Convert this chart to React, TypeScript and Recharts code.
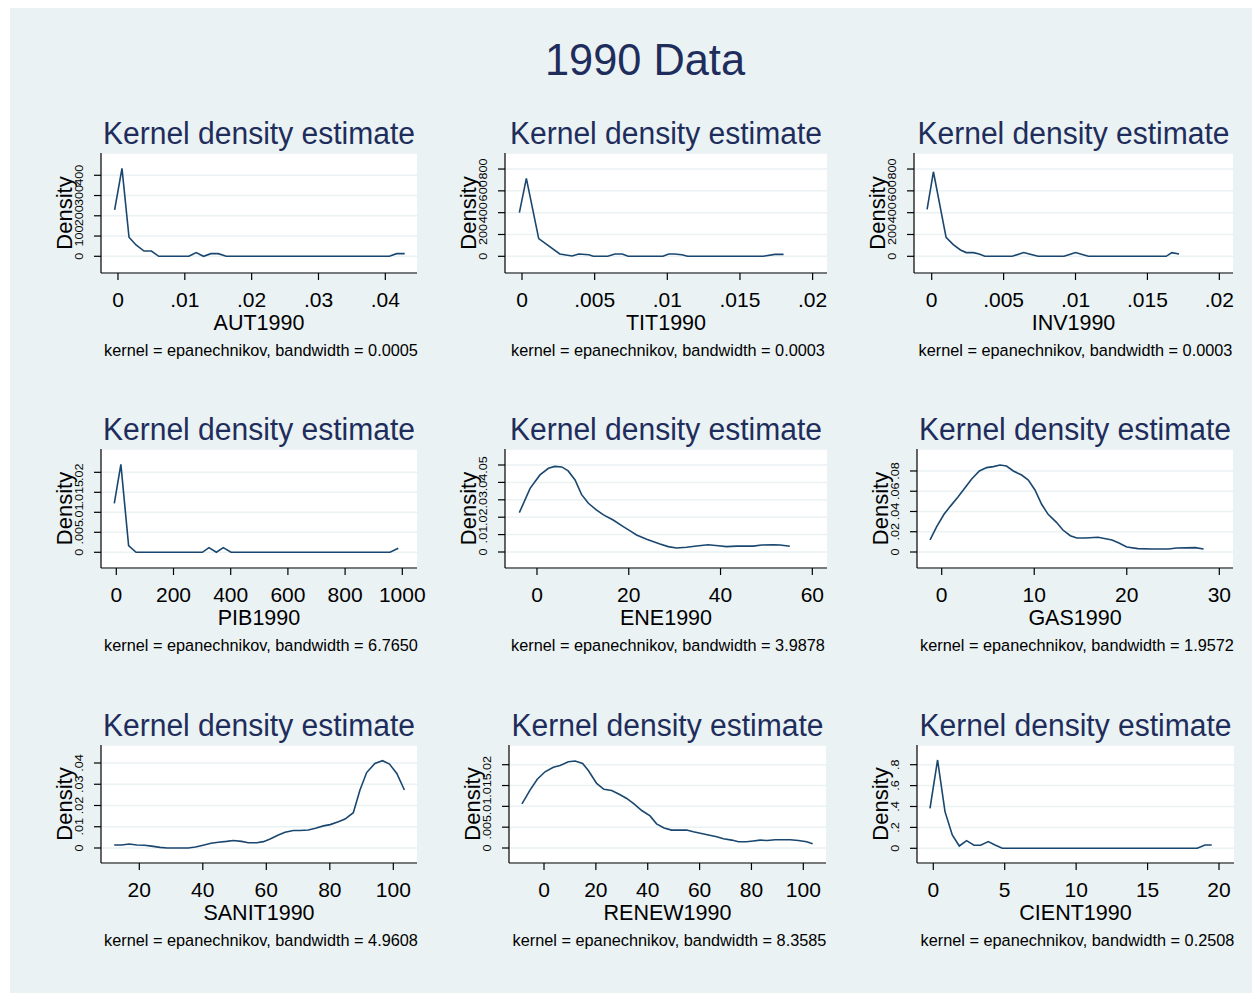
import React from "react";
import { LineChart, Line, XAxis, YAxis, CartesianGrid } from "recharts";

// kernel density curves (x = variable value, y = density)
const AUT_X = [-0.0005, 0.0006, 0.00165, 0.0027, 0.0039, 0.005, 0.0061, 0.0106, 0.0117, 0.0128, 0.0139, 0.015, 0.0162, 0.0406, 0.0417, 0.0429];
const AUT_Y = [229, 434, 94, 56, 26, 26, 0, 0, 18, 0, 13, 13, 0, 0, 13, 13];

const TIT_X = [-0.00018, 0.0003, 0.00115, 0.0026, 0.00345, 0.0039, 0.0046, 0.0049, 0.0059, 0.0064, 0.0069, 0.0073, 0.0097, 0.0101, 0.0105, 0.011, 0.0114, 0.0166, 0.0174, 0.018];
const TIT_Y = [400, 714, 162, 21, 3, 21, 15, 0, 0, 21, 21, 0, 0, 21, 21, 15, 0, 0, 18, 18];

const INV_X = [-0.00032, 0.00012, 0.001, 0.0015, 0.002, 0.0024, 0.0029, 0.0033, 0.0037, 0.0056, 0.0064, 0.0074, 0.0092, 0.01, 0.0109, 0.0163, 0.0167, 0.0172];
const INV_Y = [430, 775, 174, 107, 58, 34, 34, 21, 0, 0, 34, 0, 0, 34, 0, 0, 34, 21];

const PIB_X = [-7, 16, 43, 69, 301, 324, 350, 374, 401, 957, 986];
const PIB_Y = [0.01225, 0.022, 0.00167, 0, 0, 0.00117, 0, 0.00117, 0, 0, 0.001];

const ENE_X = [-3.85, -1.5, 0.65, 2.5, 3.9, 5.4, 6.8, 8.3, 9.7, 11.2, 13, 14.5, 16.6, 18.8, 20.3, 21.7, 23.9, 26.8, 28.6, 30.4, 32.6, 34.8, 37.3, 39.5, 41.3, 43.5, 47.1, 49, 51.5, 53, 55.1];
const ENE_Y = [0.0226, 0.0366, 0.0443, 0.0481, 0.0492, 0.0489, 0.0466, 0.0414, 0.0331, 0.028, 0.0241, 0.0213, 0.0184, 0.0146, 0.0121, 0.0098, 0.0073, 0.0046, 0.0031, 0.0023, 0.0027, 0.0034, 0.0042, 0.0036, 0.0031, 0.0034, 0.0034, 0.004, 0.0042, 0.004, 0.0033];

const GAS_X = [-1.26, -0.54, 0.25, 0.9, 1.8, 2.52, 3.24, 4.07, 4.86, 5.58, 6.3, 7.0, 7.74, 8.64, 9.36, 10.08, 10.8, 11.5, 12.4, 13.1, 13.9, 14.6, 15.5, 16.9, 18.4, 19.1, 20, 21.2, 22.7, 24.5, 25.4, 27.4, 28.3];
const GAS_Y = [0.0119, 0.025, 0.0372, 0.0448, 0.0547, 0.0635, 0.0721, 0.08, 0.0833, 0.0843, 0.0859, 0.0849, 0.08, 0.076, 0.0711, 0.0612, 0.0471, 0.0372, 0.0293, 0.0217, 0.0161, 0.0138, 0.0138, 0.0145, 0.0119, 0.0092, 0.0049, 0.0033, 0.003, 0.003, 0.004, 0.0043, 0.003];

const SANIT_X = [12.1, 14.4, 16.85, 19.2, 21.6, 23.9, 26.5, 28.8, 35.4, 37.7, 40.1, 42.6, 44.9, 47.5, 49.6, 52.2, 54.3, 57, 59.1, 61.2, 63.8, 65.9, 68.5, 70.6, 73.2, 75.5, 78, 80.1, 82.7, 84.8, 87.4, 89.5, 91.6, 94.2, 96.6, 98.8, 101.1, 103.5];
const SANIT_Y = [0.0014, 0.0014, 0.0019, 0.0014, 0.0013, 0.0009, 0.0003, 0, 0, 0.0005, 0.0013, 0.0022, 0.0027, 0.0031, 0.0035, 0.0031, 0.0025, 0.0025, 0.003, 0.0042, 0.0061, 0.0074, 0.0082, 0.0082, 0.0085, 0.0093, 0.0104, 0.011, 0.0124, 0.0136, 0.0166, 0.0273, 0.0355, 0.0398, 0.0411, 0.0395, 0.0351, 0.0273];

const RENEW_X = [-8.5, -5.4, -2.6, 0.4, 3.6, 6.2, 9.4, 12, 14.9, 17.1, 20.3, 23.1, 26.1, 29, 31.9, 34.7, 37.7, 40.9, 43.4, 46.3, 49.2, 55, 57.6, 63.4, 66.6, 69.2, 72.4, 75, 78, 80.7, 83.3, 86.1, 89.1, 94.9, 98.1, 101.3, 103.6];
const RENEW_Y = [0.0106, 0.0139, 0.0165, 0.0183, 0.0194, 0.0198, 0.0207, 0.0209, 0.0203, 0.0186, 0.0155, 0.0141, 0.0138, 0.0129, 0.0119, 0.0106, 0.009, 0.0077, 0.0058, 0.0048, 0.0043, 0.0043, 0.0039, 0.0031, 0.0027, 0.0022, 0.0019, 0.0015, 0.0015, 0.0017, 0.0019, 0.0018, 0.002, 0.002, 0.0018, 0.0015, 0.001];

const CIENT_X = [-0.23, 0.3, 0.82, 1.33, 1.82, 2.33, 2.85, 3.31, 3.85, 4.32, 4.83, 18.48, 19.02, 19.49];
const CIENT_Y = [0.382, 0.845, 0.351, 0.127, 0.022, 0.073, 0.029, 0.029, 0.064, 0.032, 0, 0, 0.032, 0.032];

// axis ticks
const SMALL_X_TICKS = [0, 0.005, 0.01, 0.015, 0.02];
const AUT_X_TICKS = [0, 0.01, 0.02, 0.03, 0.04];
const AUT_Y_TICKS = [0, 100, 200, 300, 400];
const TIT_Y_TICKS = [0, 200, 400, 600, 800];
const PIB_X_TICKS = [0, 200, 400, 600, 800, 1000];
const PIB_Y_TICKS = [0, 0.005, 0.01, 0.015, 0.02];
const ENE_X_TICKS = [0, 20, 40, 60];
const ENE_Y_TICKS = [0, 0.01, 0.02, 0.03, 0.04, 0.05];
const GAS_X_TICKS = [0, 10, 20, 30];
const GAS_Y_TICKS = [0, 0.02, 0.04, 0.06, 0.08];
const SANIT_X_TICKS = [20, 40, 60, 80, 100];
const SANIT_Y_TICKS = [0, 0.01, 0.02, 0.03, 0.04];
const RENEW_X_TICKS = [0, 20, 40, 60, 80, 100];
const RENEW_Y_TICKS = [0, 0.005, 0.01, 0.015, 0.02];
const CIENT_X_TICKS = [0, 5, 10, 15, 20];
const CIENT_Y_TICKS = [0, 0.2, 0.4, 0.6, 0.8];

const FONT = '"Liberation Sans", Arial, Helvetica, sans-serif';
const NAVY = "#1a476f";
const TITLE_COLOR = "#1f2d5c";
const BG = "#eaf2f3";

const PAD_L = 70;
const PAD_T = 45;
const PAD_R = 20;
const PAD_B = 100;

// stata style: .01 instead of 0.01
const fmt = (v: number) => String(v).replace(/^0\./, ".");

type Panel = {
  name: string;
  bw: string;
  xs: number[];
  ys: number[];
  xTicks: number[];
  yTicks: number[];
  xDomain: [number, number];
  yDomain: [number, number];
  box: { l: number; t: number; r: number; b: number };
};

const panels: Panel[] = [
  { name: "AUT1990", bw: "0.0005", xs: AUT_X, ys: AUT_Y, xTicks: AUT_X_TICKS, yTicks: AUT_Y_TICKS, xDomain: [-0.00254, 0.04474], yDomain: [-82.5, 510], box: { l: 101, t: 153, r: 417, b: 273 } },
  { name: "TIT1990", bw: "0.0003", xs: TIT_X, ys: TIT_Y, xTicks: SMALL_X_TICKS, yTicks: TIT_Y_TICKS, xDomain: [-0.00117, 0.02099], yDomain: [-153, 947], box: { l: 505, t: 153, r: 827, b: 273 } },
  { name: "INV1990", bw: "0.0003", xs: INV_X, ys: INV_Y, xTicks: SMALL_X_TICKS, yTicks: TIT_Y_TICKS, xDomain: [-0.00123, 0.02095], yDomain: [-153, 947], box: { l: 914, t: 153, r: 1233, b: 273 } },
  { name: "PIB1990", bw: "6.7650", xs: PIB_X, ys: PIB_Y, xTicks: PIB_X_TICKS, yTicks: PIB_Y_TICKS, xDomain: [-53.5, 1051.4], yDomain: [-0.00393, 0.02583], box: { l: 101, t: 449, r: 417, b: 568 } },
  { name: "ENE1990", bw: "3.9878", xs: ENE_X, ys: ENE_Y, xTicks: ENE_X_TICKS, yTicks: ENE_Y_TICKS, xDomain: [-6.97, 63.2], yDomain: [-0.0092, 0.0592], box: { l: 505, t: 449, r: 827, b: 568 } },
  { name: "GAS1990", bw: "1.9572", xs: GAS_X, ys: GAS_Y, xTicks: GAS_X_TICKS, yTicks: GAS_Y_TICKS, xDomain: [-2.67, 31.48], yDomain: [-0.0158, 0.1017], box: { l: 917, t: 449, r: 1233, b: 568 } },
  { name: "SANIT1990", bw: "4.9608", xs: SANIT_X, ys: SANIT_Y, xTicks: SANIT_X_TICKS, yTicks: SANIT_Y_TICKS, xDomain: [7.94, 107.46], yDomain: [-0.00706, 0.04847], box: { l: 101, t: 745, r: 417, b: 863 } },
  { name: "RENEW1990", bw: "8.3585", xs: RENEW_X, ys: RENEW_Y, xTicks: RENEW_X_TICKS, yTicks: RENEW_Y_TICKS, xDomain: [-13.5, 108.75], yDomain: [-0.0036, 0.02473], box: { l: 509, t: 745, r: 826, b: 863 } },
  { name: "CIENT1990", bw: "0.2508", xs: CIENT_X, ys: CIENT_Y, xTicks: CIENT_X_TICKS, yTicks: CIENT_Y_TICKS, xDomain: [-1.14, 21.05], yDomain: [-0.1407, 0.9885], box: { l: 917, t: 745, r: 1234, b: 863 } },
];

function XTick(props: any) {
  const { x, y, payload } = props;
  return (
    <text x={x} y={y + 27} textAnchor="middle" fontSize={21} fontFamily={FONT} fill="#000">
      {fmt(payload.value)}
    </text>
  );
}

function YTick(props: any) {
  const { x, y, payload } = props;
  // rotated, stretched like stata's small vertical labels
  return (
    <g transform={`translate(${x - 11.5},${y}) rotate(-90) scale(1.15,1)`}>
      <text x={0} y={0} textAnchor="middle" fontSize={11} fontFamily={FONT} fill="#000">
        {fmt(payload.value)}
      </text>
    </g>
  );
}

function DensityPanel({ p }: { p: Panel }) {
  const w = p.box.r - p.box.l;
  const h = p.box.b - p.box.t;
  const cw = w + PAD_L + PAD_R;
  const ch = h + PAD_T + PAD_B;
  const data = p.xs.map((x, i) => ({ x, y: p.ys[i] }));
  const cx = PAD_L + w / 2;

  return (
    <div style={{ position: "absolute", left: p.box.l - PAD_L, top: p.box.t - PAD_T, width: cw, height: ch }}>
      <LineChart width={cw} height={ch} data={data} margin={{ top: PAD_T, right: PAD_R, bottom: 0, left: 0 }}>
        <CartesianGrid vertical={false} stroke={BG} strokeWidth={1.5} fill="#ffffff" />
        <XAxis
          type="number"
          dataKey="x"
          domain={p.xDomain}
          ticks={p.xTicks}
          interval={0}
          allowDataOverflow
          height={PAD_B}
          tickSize={7}
          tickMargin={0}
          axisLine={{ stroke: "#000", strokeWidth: 1.2 }}
          tickLine={{ stroke: "#000", strokeWidth: 1.2 }}
          tick={<XTick />}
        />
        <YAxis
          type="number"
          dataKey="y"
          domain={p.yDomain}
          ticks={p.yTicks}
          interval={0}
          allowDataOverflow
          width={PAD_L}
          tickSize={7}
          tickMargin={0}
          axisLine={{ stroke: "#000", strokeWidth: 1.2 }}
          tickLine={{ stroke: "#000", strokeWidth: 1.2 }}
          tick={<YTick />}
        />
        <Line type="linear" dataKey="y" stroke={NAVY} strokeWidth={1.6} dot={false} isAnimationActive={false} />
      </LineChart>
      <svg width={cw} height={ch} style={{ position: "absolute", left: 0, top: 0, pointerEvents: "none" }}>
        <text x={cx} y={PAD_T - 9} textAnchor="middle" fontSize={31} fontFamily={FONT} fill={TITLE_COLOR} textLength={312} lengthAdjust="spacingAndGlyphs">
          Kernel density estimate
        </text>
        <text transform={`translate(${PAD_L - 29},${PAD_T + h / 2}) rotate(-90)`} textAnchor="middle" fontSize={22} fontFamily={FONT} fill="#000">
          Density
        </text>
        <text x={cx} y={PAD_T + h + 56.5} textAnchor="middle" fontSize={21.5} fontFamily={FONT} fill="#000">
          {p.name}
        </text>
        <text x={cx + 2} y={PAD_T + h + 83} textAnchor="middle" fontSize={16.3} fontFamily={FONT} fill="#000">
          {`kernel = epanechnikov, bandwidth = ${p.bw}`}
        </text>
      </svg>
    </div>
  );
}

export default function App() {
  return (
    <div style={{ position: "relative", width: 1258, height: 994, background: "#fff", overflow: "hidden", fontFamily: FONT }}>
      <style>{"body{margin:0}"}</style>
      <div style={{ position: "absolute", left: 10, top: 8, width: 1242, height: 985, background: BG }} />
      <svg width={1258} height={100} style={{ position: "absolute", left: 0, top: 0 }}>
        <text x={645} y={75} textAnchor="middle" fontSize={45} fontFamily={FONT} fill={TITLE_COLOR} textLength={200} lengthAdjust="spacingAndGlyphs">
          1990 Data
        </text>
      </svg>
      {panels.map((p) => (
        <DensityPanel key={p.name} p={p} />
      ))}
    </div>
  );
}
